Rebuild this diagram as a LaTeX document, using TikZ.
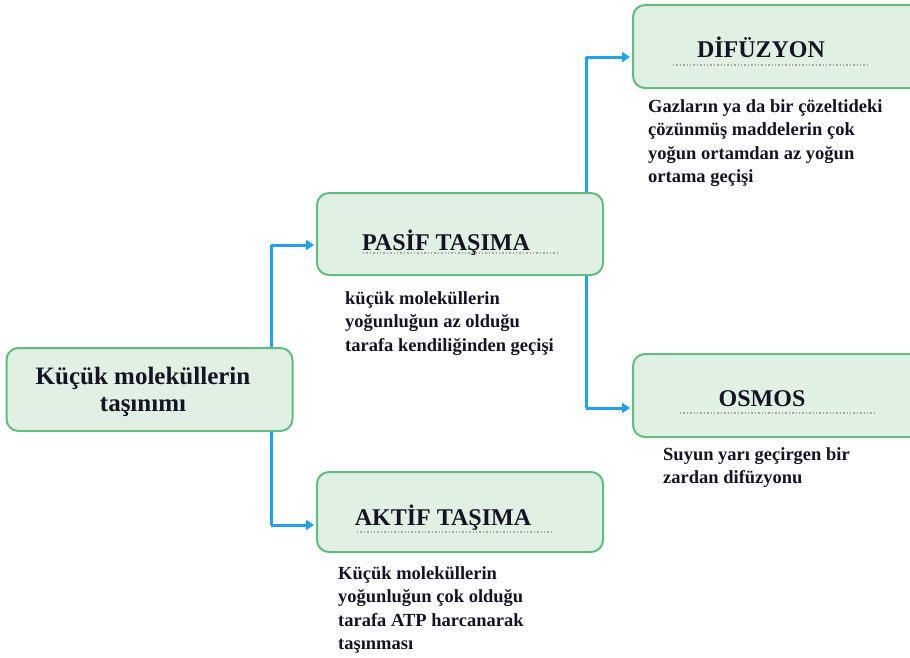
\documentclass[tikz,border=0pt]{standalone}
\usepackage{fontspec}
\setmainfont{Liberation Serif}
\usetikzlibrary{arrows.meta}
\pgfdeclarelayer{bg}
\pgfsetlayers{bg,main}
\definecolor{boxfill}{RGB}{224,240,226}
\definecolor{boxdraw}{RGB}{98,190,128}
\definecolor{arrblue}{RGB}{32,162,236}
\definecolor{txt}{RGB}{22,20,36}
\begin{document}
\begin{tikzpicture}[x=1pt,y=-1pt,
  box/.style={draw=boxdraw,fill=boxfill,line width=2pt,rounded corners=12pt,inner sep=0pt},
  ttl/.style={font=\bfseries\fontsize{24}{27}\selectfont,text=txt,inner sep=0pt},
  desc/.style={font=\bfseries\fontsize{18.5}{23.5}\selectfont,text=txt,align=left,anchor=north west,inner sep=0pt},
  trunk/.style={draw=arrblue,line width=3pt},
  arr/.style={draw=arrblue,line width=3pt,-{Triangle[length=8pt,width=10pt]},shorten >=2pt},
  dots/.style={draw=gray!70,line width=1.4pt,dotted}]
\useasboundingbox (0,0) rectangle (910,657);
\clip (0,0) rectangle (910,657);
% boxes
\node[box,minimum width=286pt,minimum height=83pt] (root) at (149.5,389.5) {};
\node[box,minimum width=286pt,minimum height=82pt] (pasif) at (460,234) {};
\node[box,minimum width=286pt,minimum height=80pt] (aktif) at (460,512) {};
\node[box,minimum width=292pt,minimum height=83pt] (dif) at (779,46.5) {};
\node[box,minimum width=292pt,minimum height=83pt] (osm) at (779,395.5) {};
% titles
\node[font=\bfseries\fontsize{25}{27}\selectfont,text=txt,align=center,inner sep=0pt] (rootT) at (143,392) {Küçük moleküllerin\\taşınımı};
\node[ttl] (pasifT) at (446,243) {PASİF TAŞIMA};
\node[ttl] (aktifT) at (443,518) {AKTİF TAŞIMA};
\node[ttl] (difT) at (761,47) {DİFÜZYON};
\node[ttl] (osmT) at (762,399) {OSMOS};
% dotted underlines
\draw[dots] (363,253) -- (560,253);
\draw[dots] (357,532) -- (552,532);
\draw[dots] (673,65) -- (870,65);
\draw[dots] (680,413) -- (875,413);
% descriptions
\node[desc] (pasifD) at (345,291) {küçük moleküllerin\\yoğunluğun az olduğu\\tarafa kendiliğinden geçişi};
\node[desc] (aktifD) at (338,566) {Küçük moleküllerin\\yoğunluğun çok olduğu\\tarafa ATP harcanarak\\taşınması};
\node[desc] (difD) at (648,99) {Gazların ya da bir çözeltideki\\çözünmüş maddelerin çok\\yoğun ortamdan az yoğun\\ortama geçişi};
\node[desc] (osmD) at (663,447) {Suyun yarı geçirgen bir\\zardan difüzyonu};
% connectors
\coordinate (lt) at (271,245);
\coordinate (lb) at (271,525);
\coordinate (rt) at (586,57);
\coordinate (rb) at (586,408);
\begin{pgfonlayer}{bg}
\draw[trunk] (lt) -- (lb);
\draw[trunk] (rt) -- (rb);
\end{pgfonlayer}
\draw[arr] (lt) -- (pasif.west |- lt);
\draw[arr] (lb) -- (aktif.west |- lb);
\draw[arr] (rt) -- (dif.west |- rt);
\draw[arr] (rb) -- (osm.west |- rb);
\end{tikzpicture}
\end{document}
